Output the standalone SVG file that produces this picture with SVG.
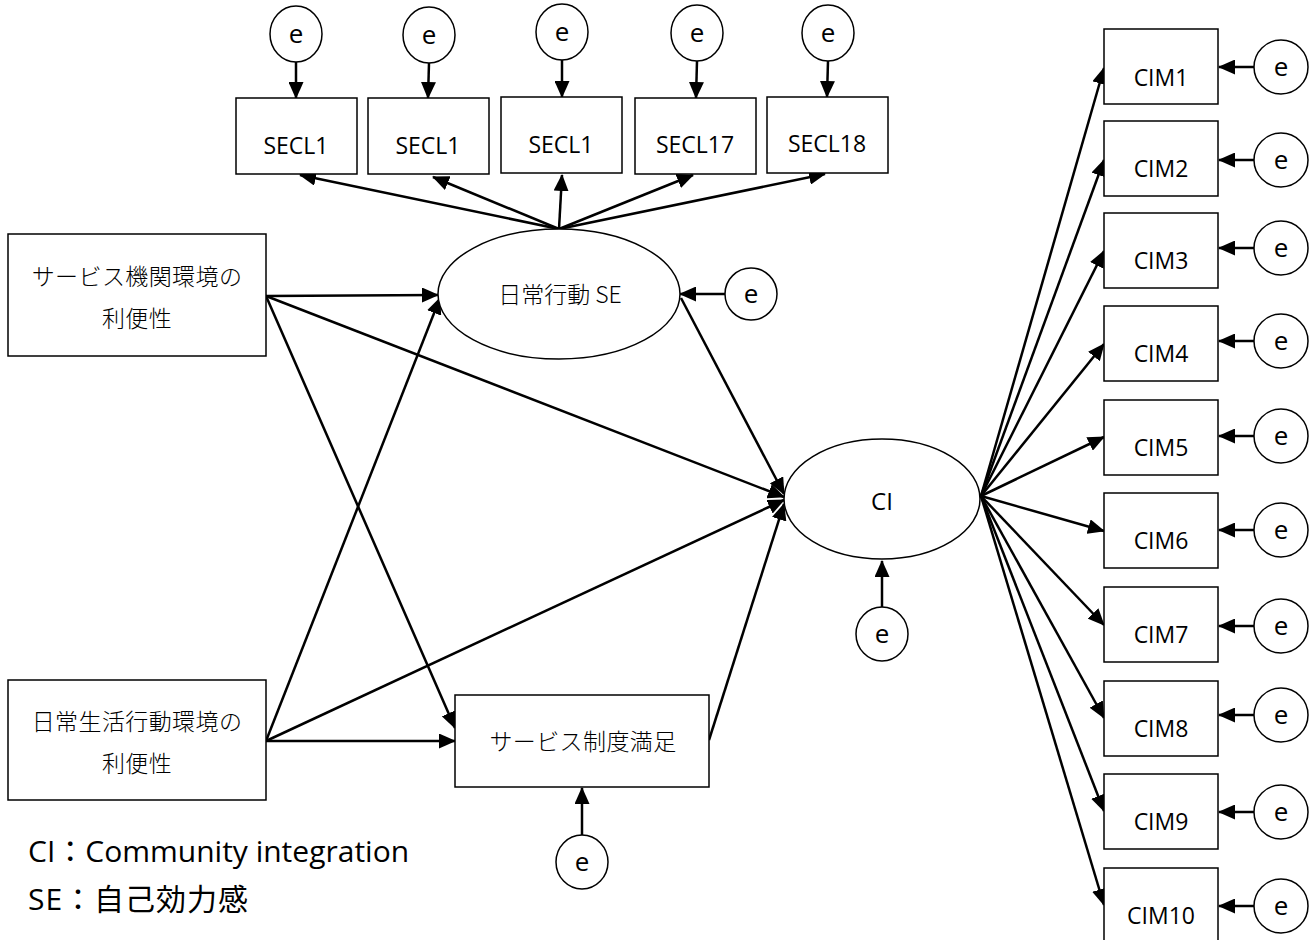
<svg xmlns="http://www.w3.org/2000/svg" width="1316" height="940" viewBox="0 0 1316 940">
<defs>
<marker id="ah" viewBox="0 0 17 15" refX="16" refY="7.5" markerWidth="17" markerHeight="15" markerUnits="userSpaceOnUse" orient="auto">
<path d="M0,0 L17,7.5 L0,15 z" fill="#000"/>
</marker>
<style>
.box{fill:#fff;stroke:#000;stroke-width:1.5}
.el{fill:#fff;stroke:#000;stroke-width:1.5}
.t{font-family:"Open Sans","Noto Sans CJK JP",sans-serif;font-size:23px;fill:#000;text-anchor:middle}
.j{font-family:"Noto Sans CJK JP",sans-serif;font-size:23px;font-weight:300;fill:#000;text-anchor:middle;letter-spacing:0.4px}
.e{font-family:"Open Sans",sans-serif;font-size:26px;fill:#000;text-anchor:middle}
.c line{stroke:#000;stroke-width:2.5;marker-end:url(#ah)}
.leg{font-family:"Open Sans","Noto Sans CJK JP",sans-serif;font-size:30px;fill:#000}
</style>
</defs>
<rect width="1316" height="940" fill="#fff"/>

<g id="connectors" class="c">
<line x1="296" y1="62" x2="296" y2="98"/>
<line x1="429" y1="63" x2="428" y2="98"/>
<line x1="562" y1="60" x2="562" y2="97"/>
<line x1="697" y1="61" x2="696" y2="98"/>
<line x1="828" y1="61" x2="827" y2="97"/>
<line x1="559" y1="229" x2="300" y2="175"/>
<line x1="559" y1="229" x2="433" y2="177"/>
<line x1="559" y1="229" x2="562" y2="175"/>
<line x1="559" y1="229" x2="693" y2="175"/>
<line x1="559" y1="229" x2="825" y2="174"/>
<line x1="725" y1="294" x2="680" y2="294"/>
<line x1="266" y1="296" x2="438" y2="295"/>
<line x1="266" y1="296" x2="784" y2="497"/>
<line x1="266" y1="296" x2="455" y2="728"/>
<line x1="266" y1="741" x2="440" y2="298"/>
<line x1="266" y1="741" x2="784" y2="500"/>
<line x1="266" y1="741" x2="455" y2="741"/>
<line x1="681" y1="298" x2="784" y2="494"/>
<line x1="709" y1="740" x2="784" y2="504"/>
<line x1="582" y1="835" x2="582" y2="788"/>
<line x1="882" y1="607" x2="882" y2="561"/>
<line x1="981" y1="496" x2="1104" y2="68"/>
<line x1="981" y1="496" x2="1104" y2="160"/>
<line x1="981" y1="496" x2="1104" y2="251"/>
<line x1="981" y1="496" x2="1104" y2="344"/>
<line x1="981" y1="496" x2="1104" y2="437"/>
<line x1="981" y1="496" x2="1104" y2="531"/>
<line x1="981" y1="496" x2="1104" y2="625"/>
<line x1="981" y1="496" x2="1104" y2="718"/>
<line x1="981" y1="496" x2="1104" y2="811"/>
<line x1="981" y1="496" x2="1104" y2="905"/>
<line x1="1254" y1="67" x2="1219" y2="67"/>
<line x1="1254" y1="160" x2="1219" y2="160"/>
<line x1="1254" y1="248" x2="1219" y2="248"/>
<line x1="1254" y1="341" x2="1219" y2="341"/>
<line x1="1254" y1="436" x2="1219" y2="436"/>
<line x1="1254" y1="530" x2="1219" y2="530"/>
<line x1="1254" y1="626" x2="1219" y2="626"/>
<line x1="1254" y1="715" x2="1219" y2="715"/>
<line x1="1254" y1="812" x2="1219" y2="812"/>
<line x1="1254" y1="906" x2="1219" y2="906"/>
</g>

<g id="e-secl1a"><ellipse class="el" cx="296" cy="34" rx="26" ry="28"/><text class="e" x="296" y="43">e</text></g>
<g id="e-secl1b"><ellipse class="el" cx="429" cy="35" rx="26" ry="28"/><text class="e" x="429" y="44">e</text></g>
<g id="e-secl1c"><ellipse class="el" cx="562" cy="32" rx="26" ry="28"/><text class="e" x="562" y="41">e</text></g>
<g id="e-secl17"><ellipse class="el" cx="697" cy="33" rx="26" ry="28"/><text class="e" x="697" y="42">e</text></g>
<g id="e-secl18"><ellipse class="el" cx="828" cy="33" rx="26" ry="28"/><text class="e" x="828" y="42">e</text></g>

<g id="secl1a"><rect class="box" x="236" y="98" width="121" height="76"/><text class="t" x="296" y="154">SECL1</text></g>
<g id="secl1b"><rect class="box" x="368" y="98" width="121" height="76"/><text class="t" x="428" y="154">SECL1</text></g>
<g id="secl1c"><rect class="box" x="501" y="97" width="121" height="76"/><text class="t" x="561" y="153">SECL1</text></g>
<g id="secl17"><rect class="box" x="635" y="98" width="121" height="76"/><text class="t" x="695" y="153">SECL17</text></g>
<g id="secl18"><rect class="box" x="767" y="97" width="121" height="76"/><text class="t" x="827" y="152">SECL18</text></g>

<g id="se"><ellipse class="el" cx="559" cy="294" rx="121" ry="65"/><text class="j" x="560" y="303" style="letter-spacing:0">日常行動 SE</text></g>
<g id="e-se"><ellipse class="el" cx="751" cy="294" rx="26" ry="26"/><text class="e" x="751" y="303">e</text></g>

<g id="svc-env"><rect class="box" x="8" y="234" width="258" height="122"/><text class="j" x="137" y="285">サービス機関環境の</text><text class="j" x="137" y="327">利便性</text></g>
<g id="life-env"><rect class="box" x="8" y="680" width="258" height="120"/><text class="j" x="137" y="730">日常生活行動環境の</text><text class="j" x="137" y="772">利便性</text></g>
<g id="svc-sat"><rect class="box" x="455" y="695" width="254" height="92"/><text class="j" x="583" y="750">サービス制度満足</text></g>
<g id="e-sat"><ellipse class="el" cx="582" cy="862" rx="26" ry="27"/><text class="e" x="582" y="871">e</text></g>

<g id="ci"><ellipse class="el" cx="882" cy="499" rx="98" ry="60"/><text class="t" x="882" y="510" style="font-size:24px">CI</text></g>
<g id="e-ci"><ellipse class="el" cx="882" cy="634" rx="26" ry="27"/><text class="e" x="882" y="643">e</text></g>

<g id="cim1"><rect class="box" x="1104" y="29" width="114" height="75"/><text class="t" x="1161" y="86">CIM1</text></g>
<g id="cim2"><rect class="box" x="1104" y="121" width="114" height="75"/><text class="t" x="1161" y="177">CIM2</text></g>
<g id="cim3"><rect class="box" x="1104" y="213" width="114" height="75"/><text class="t" x="1161" y="269">CIM3</text></g>
<g id="cim4"><rect class="box" x="1104" y="306" width="114" height="75"/><text class="t" x="1161" y="362">CIM4</text></g>
<g id="cim5"><rect class="box" x="1104" y="400" width="114" height="75"/><text class="t" x="1161" y="456">CIM5</text></g>
<g id="cim6"><rect class="box" x="1104" y="493" width="114" height="75"/><text class="t" x="1161" y="549">CIM6</text></g>
<g id="cim7"><rect class="box" x="1104" y="587" width="114" height="75"/><text class="t" x="1161" y="643">CIM7</text></g>
<g id="cim8"><rect class="box" x="1104" y="681" width="114" height="75"/><text class="t" x="1161" y="737">CIM8</text></g>
<g id="cim9"><rect class="box" x="1104" y="774" width="114" height="75"/><text class="t" x="1161" y="830">CIM9</text></g>
<g id="cim10"><rect class="box" x="1104" y="868" width="114" height="80"/><text class="t" x="1161" y="924">CIM10</text></g>

<g id="e-cim1"><ellipse class="el" cx="1281" cy="67" rx="27" ry="27"/><text class="e" x="1281" y="76">e</text></g>
<g id="e-cim2"><ellipse class="el" cx="1281" cy="160" rx="27" ry="27"/><text class="e" x="1281" y="169">e</text></g>
<g id="e-cim3"><ellipse class="el" cx="1281" cy="248" rx="27" ry="27"/><text class="e" x="1281" y="257">e</text></g>
<g id="e-cim4"><ellipse class="el" cx="1281" cy="341" rx="27" ry="27"/><text class="e" x="1281" y="350">e</text></g>
<g id="e-cim5"><ellipse class="el" cx="1281" cy="436" rx="27" ry="27"/><text class="e" x="1281" y="445">e</text></g>
<g id="e-cim6"><ellipse class="el" cx="1281" cy="530" rx="27" ry="27"/><text class="e" x="1281" y="539">e</text></g>
<g id="e-cim7"><ellipse class="el" cx="1281" cy="626" rx="27" ry="27"/><text class="e" x="1281" y="635">e</text></g>
<g id="e-cim8"><ellipse class="el" cx="1281" cy="715" rx="27" ry="27"/><text class="e" x="1281" y="724">e</text></g>
<g id="e-cim9"><ellipse class="el" cx="1281" cy="812" rx="27" ry="27"/><text class="e" x="1281" y="821">e</text></g>
<g id="e-cim10"><ellipse class="el" cx="1281" cy="906" rx="27" ry="27"/><text class="e" x="1281" y="915">e</text></g>

<g id="legend">
<text class="leg" x="28" y="862">CI：Community integration</text>
<text class="leg" x="28" y="910" style="letter-spacing:1px">SE：自己効力感</text>
</g>
</svg>
